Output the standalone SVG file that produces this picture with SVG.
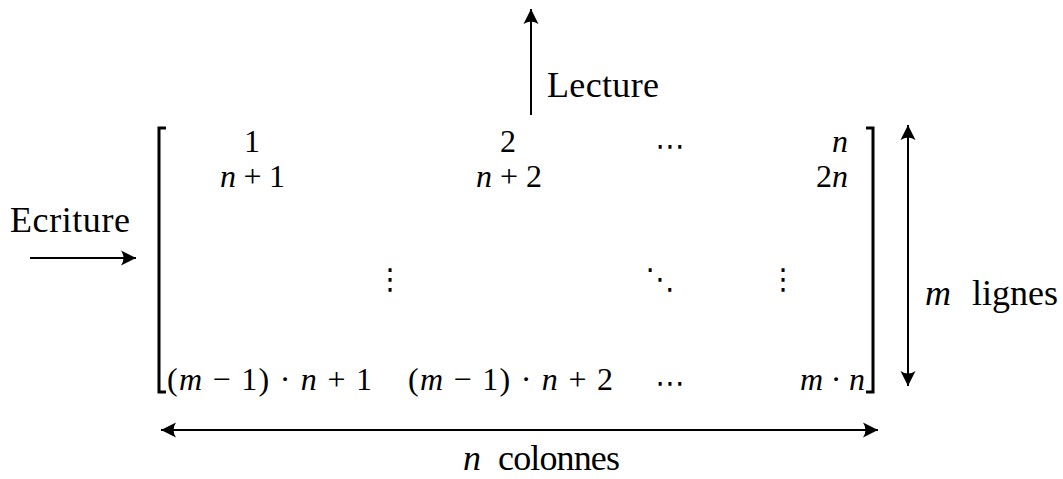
<svg xmlns="http://www.w3.org/2000/svg" width="1063" height="479" viewBox="0 0 1063 479">
  <style>
    .lbl { font-family: "Liberation Serif", "DejaVu Serif", serif; font-size: 36px; fill: #000; }
    .m { font-family: "Liberation Serif", "DejaVu Serif", serif; font-size: 32px; fill: #000; }
    .it { font-style: italic; }
    .dots { font-family: "DejaVu Sans", "Noto Sans", sans-serif; font-size: 29px; fill: #000; }
    .conn { stroke: #000; stroke-width: 2; fill: none; }
    .br { stroke: #000; stroke-width: 3; fill: none; }
  </style>
  <defs>
    <marker id="ah" viewBox="-16 -8 17 16" refX="0" refY="0" markerWidth="17" markerHeight="16" markerUnits="userSpaceOnUse" orient="auto-start-reverse">
      <path d="M0,0 L-15,-7.5 Q-10,0 -15,7.5 Z" fill="#000"/>
    </marker>
  </defs>

  <g id="connectors">
    <line class="conn" x1="531" y1="115" x2="531" y2="9" marker-end="url(#ah)"/>
    <line class="conn" x1="30" y1="258" x2="136" y2="258" marker-end="url(#ah)"/>
    <line class="conn" x1="908" y1="125" x2="908" y2="386" marker-start="url(#ah)" marker-end="url(#ah)"/>
    <line class="conn" x1="161" y1="430" x2="878" y2="430" marker-start="url(#ah)" marker-end="url(#ah)"/>
  </g>

  <g id="lecture">
    <text class="lbl" x="547" y="97" textLength="112">Lecture</text>
  </g>
  <g id="ecriture">
    <text class="lbl" x="10" y="232" textLength="120">Ecriture</text>
  </g>
  <g id="lignes">
    <text class="lbl it" x="925" y="305">m</text>
    <text class="lbl" x="972" y="305" textLength="86">lignes</text>
  </g>
  <g id="colonnes">
    <text class="lbl it" x="463" y="470">n</text>
    <text class="lbl" x="498" y="470" textLength="122">colonnes</text>
  </g>

  <g id="matrix">
    <path class="br" d="M166,128 H159 V392 H166"/>
    <path class="br" d="M866,128 H873 V392 H866"/>

    <text class="m" x="252" y="152" text-anchor="middle">1</text>
    <text class="m" x="508" y="152" text-anchor="middle">2</text>
    <text class="dots" x="670" y="156" text-anchor="middle">⋯</text>
    <text class="m it" x="848" y="152" text-anchor="end">n</text>

    <text class="m" x="220" y="187" textLength="65"><tspan class="it">n</tspan> + 1</text>
    <text class="m" x="476" y="187" textLength="66"><tspan class="it">n</tspan> + 2</text>
    <text class="m" x="848" y="187" text-anchor="end">2<tspan class="it">n</tspan></text>

    <text class="dots" x="390" y="289" text-anchor="middle">⋮</text>
    <text class="dots" x="660" y="289" text-anchor="middle">⋱</text>
    <text class="dots" x="783" y="289" text-anchor="middle">⋮</text>

    <text class="m" x="167" y="390" textLength="205">(<tspan class="it">m</tspan> − 1) · <tspan class="it">n</tspan> + 1</text>
    <text class="m" x="408" y="390" textLength="205">(<tspan class="it">m</tspan> − 1) · <tspan class="it">n</tspan> + 2</text>
    <text class="dots" x="670" y="393" text-anchor="middle">⋯</text>
    <text class="m" x="800" y="390" textLength="65"><tspan class="it">m</tspan> · <tspan class="it">n</tspan></text>
  </g>
</svg>
